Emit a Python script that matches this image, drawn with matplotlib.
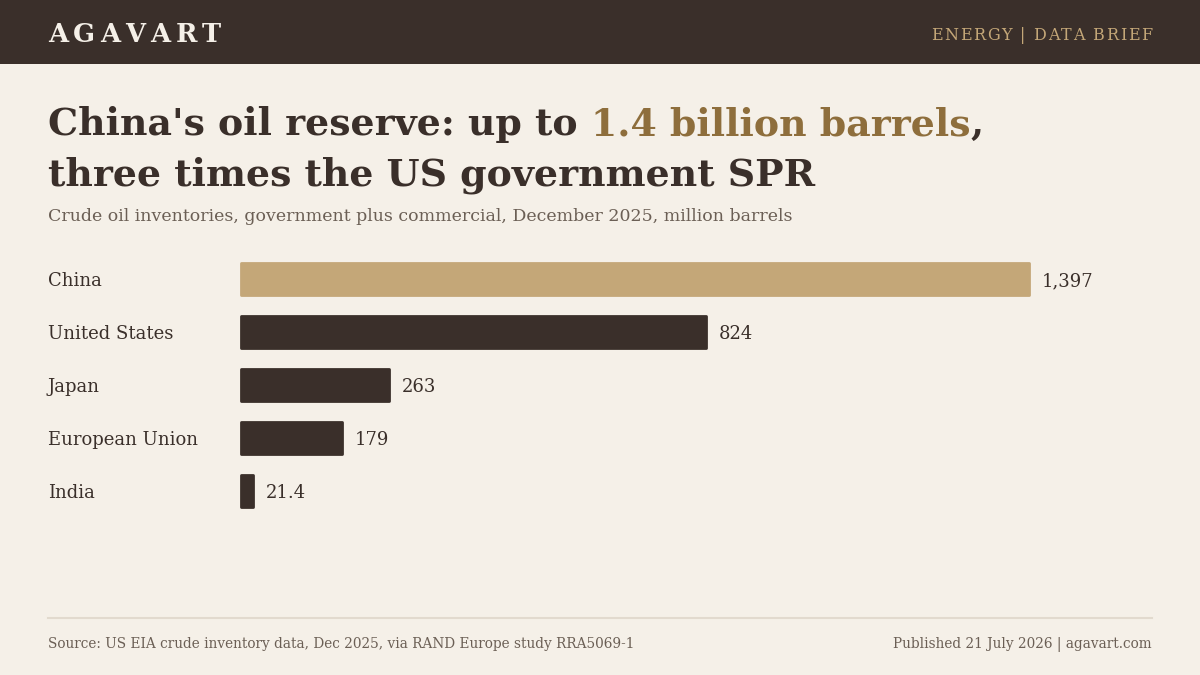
import matplotlib
matplotlib.use("Agg")
import matplotlib.pyplot as plt
from matplotlib.patches import Rectangle
from matplotlib.lines import Line2D

countries = ["China", "United States", "Japan", "European Union", "India"]
values = [1397, 824, 263, 179, 21.4]
value_labels = ["1,397", "824", "263", "179", "21.4"]

BG = "#f5f0e8"
DARK = "#3a2f2a"
GOLD = "#8e6e3c"
TAN = "#c4a778"
MUTED = "#6b5f55"
HEADER_ACCENT = "#c4a778"
FONT = "DejaVu Serif"

W, H = 1200, 675
fig = plt.figure(figsize=(W / 100, H / 100), dpi=100, facecolor=BG)
renderer = fig.canvas.get_renderer()


def px(x, y):
    return x / W, 1 - y / H


def text_width(t):
    return t.get_window_extent(renderer=renderer).width


def tracked(x, y, s, size, color, weight="normal", spacing=0.0, ha="left"):
    # draw text with letter spacing (in px)
    chars = []
    widths = []
    for ch in s:
        t = fig.text(0, 0, ch if ch != " " else "", fontsize=size, family=FONT,
                     weight=weight, color=color, va="baseline")
        w = text_width(t) if ch != " " else size * 100 / 72 * 0.3
        chars.append(t)
        widths.append(w)
    total = sum(widths) + spacing * (len(s) - 1)
    cx = x if ha == "left" else x - total
    for t, w in zip(chars, widths):
        t.set_position(px(cx, y))
        cx += w + spacing
    return total


# header band
fig.patches.append(Rectangle((0, 1 - 64 / H), 1, 64 / H, transform=fig.transFigure,
                             facecolor=DARK, edgecolor="none", zorder=0))
tracked(48, 42, "AGAVART", 18.5, BG, weight="bold", spacing=5.0)
tracked(1152, 40, "ENERGY | DATA BRIEF", 11.5, HEADER_ACCENT, spacing=1.6, ha="right")

# title
TS = 27.3
parts = [("China's oil reserve: up to ", DARK), ("1.4 billion barrels", GOLD), (",", DARK)]
x = 48
for s, c in parts:
    t = fig.text(*px(x, 135), s, fontsize=TS, family=FONT, weight="bold", color=c,
                 va="baseline", ha="left")
    x += text_width(t)
fig.text(*px(48, 185), "three times the US government SPR", fontsize=TS, family=FONT,
         weight="bold", color=DARK, va="baseline", ha="left")
fig.text(*px(48, 221), "Crude oil inventories, government plus commercial, December 2025, million barrels",
         fontsize=12.5, family=FONT, color=MUTED, va="baseline", ha="left")

# bars
left_px, right_px, top_px, bot_px = 241, 1152, 252, 518
ax = fig.add_axes([left_px / W, 1 - bot_px / H, (right_px - left_px) / W, (bot_px - top_px) / H])
ax.set_facecolor("none")
scale_px_per_unit = (1029 - left_px) / max(values)
ax.set_xlim(0, (right_px - left_px) / scale_px_per_unit)
ax.set_ylim(len(countries) - 0.5 + 0.009, -0.509)
colors = [TAN] + [DARK] * (len(countries) - 1)
ypos = list(range(len(countries)))
bars = ax.barh(ypos, values, height=0.6, color=colors, edgecolor=colors, linewidth=2.0,
               joinstyle="round")
for b in bars:
    b.set_clip_on(False)
for yi, v, lab in zip(ypos, values, value_labels):
    ax.annotate(lab, (v, yi), xytext=(9, 0), textcoords="offset points",
                fontsize=13, family=FONT, color=DARK, va="center_baseline", ha="left")
    ax.annotate(countries[yi], (0, yi), xytext=(-(left_px - 48) * 0.72, 0),
                textcoords="offset points", fontsize=13, family=FONT, color=DARK,
                va="center_baseline", ha="left")
ax.axis("off")

# footer
fig.add_artist(Line2D([48 / W, 1152 / W], [1 - 618 / H] * 2, transform=fig.transFigure,
                      color="#e2dace", linewidth=1.5))
fig.text(*px(48, 648), "Source: US EIA crude inventory data, Dec 2025, via RAND Europe study RRA5069-1",
         fontsize=9.8, family=FONT, color=MUTED, va="baseline", ha="left")
fig.text(*px(1152, 648), "Published 21 July 2026 | agavart.com",
         fontsize=9.8, family=FONT, color=MUTED, va="baseline", ha="right")

fig.savefig("out.png", dpi=100, facecolor=BG)
